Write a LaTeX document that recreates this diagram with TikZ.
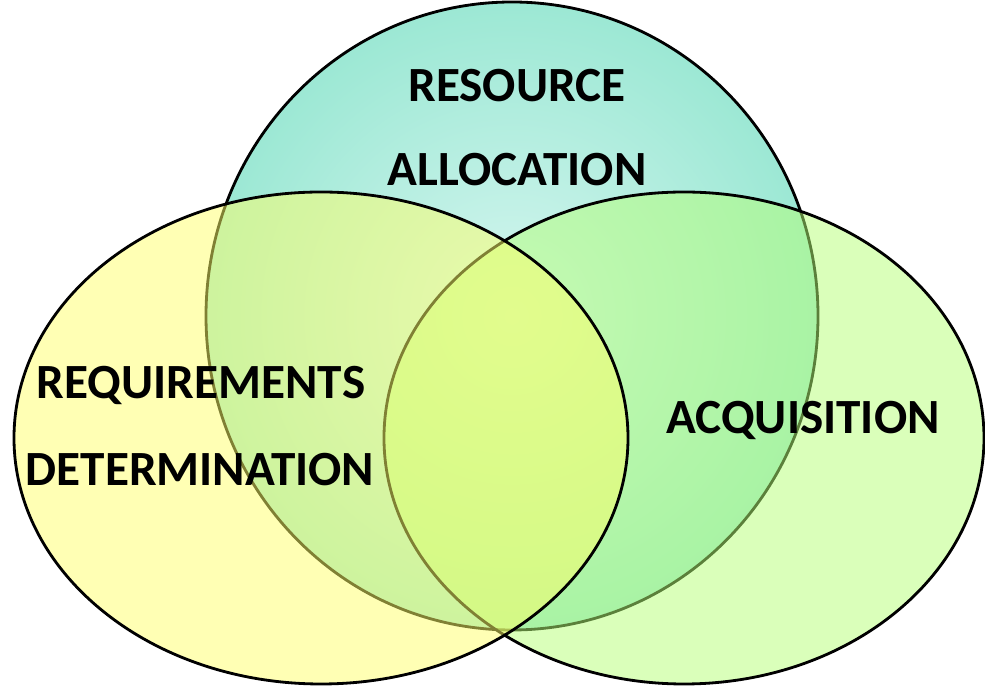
\documentclass[tikz,border=0pt]{standalone}
\usepackage{fontspec}
\setmainfont{Carlito}
\definecolor{tealout}{RGB}{156,232,212}
\definecolor{tealin}{RGB}{214,246,240}
\definecolor{reqyellow}{RGB}{255,255,105}
\definecolor{acqgreen}{RGB}{182,255,118}

\begin{document}
\begin{tikzpicture}[
    x=0.02cm, y=0.02cm,
    ring/.style={draw=black, line width=1.6pt},
    label/.style={font=\fontsize{28}{34}\selectfont\bfseries, text=black,
      align=center, inner sep=0pt}
  ]
    % picture frame
    \useasboundingbox (0,0) rectangle (985,686);
    % centres of the three rings
    \coordinate (alloc) at (512,370);
    \coordinate (req) at (321,248);
    \coordinate (acq) at (684,248);
    % top ring: resource allocation
    \shade[inner color=tealin, outer color=tealout]
      (alloc) ellipse [x radius=306, y radius=314];
    \draw[ring] (alloc) ellipse [x radius=306, y radius=314];
    % right ring: acquisition
    \draw[ring, fill=acqgreen, fill opacity=0.5]
      (acq) ellipse [x radius=300, y radius=246];
    % left ring: requirements determination
    \draw[ring, fill=reqyellow, fill opacity=0.5]
      (req) ellipse [x radius=307, y radius=246];

    % labels
    \node[label] (allocA) at (517,600) {RESOURCE};
    \node[label] (allocB) at (517,516) {ALLOCATION};
    \node[label] (reqA) at (201,301) {REQUIREMENTS};
    \node[label] (reqB) at (200,216) {DETERMINATION};
    \node[label] (acqA) at (803,266) {ACQUISITION};
\end{tikzpicture}
\end{document}
